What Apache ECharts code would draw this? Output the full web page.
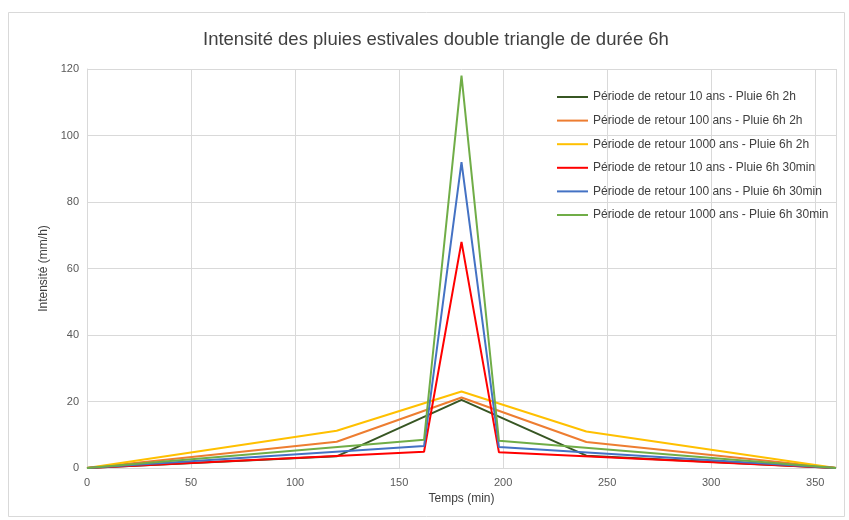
<!DOCTYPE html>
<html>
<head>
<meta charset="utf-8">
<script src="https://cdn.jsdelivr.net/npm/echarts@6/dist/echarts.min.js"></script>
<style>html,body{margin:0;padding:0;background:#fff;}#c{width:849px;height:520px;}</style>
</head>
<body>
<div id="c"></div>
<script>
const seriesNames = [
  "Période de retour 10 ans - Pluie 6h 2h",
  "Période de retour 100 ans - Pluie 6h 2h",
  "Période de retour 1000 ans - Pluie 6h 2h",
  "Période de retour 10 ans - Pluie 6h 30min",
  "Période de retour 100 ans - Pluie 6h 30min",
  "Période de retour 1000 ans - Pluie 6h 30min"
];
const times2h = [0, 120, 180, 240, 360];
const times30 = [0, 162, 180, 198, 360];
const t10_2h = [0, 3.5, 20.5, 3.7, 0];
const t100_2h = [0, 7.9, 21.2, 7.8, 0];
const t1000_2h = [0, 11.2, 23.0, 11.0, 0];
const t10_30 = [0, 4.9, 68.0, 4.7, 0];
const t100_30 = [0, 6.6, 92.0, 6.3, 0];
const t1000_30 = [0, 8.5, 118.0, 8.2, 0];
const colors = ["#375623", "#ed7d31", "#ffc000", "#ff0000", "#4472c4", "#70ad47"];

const allX = [times2h, times2h, times2h, times30, times30, times30];
const allY = [t10_2h, t100_2h, t1000_2h, t10_30, t100_30, t1000_30];

const chart = echarts.init(document.getElementById('c'));
chart.setOption({
  animation: false,
  backgroundColor: '#fff',
  title: {
    text: 'Intensité des pluies estivales double triangle de durée 6h',
    left: 198, top: 25,
    textStyle: {fontFamily: 'Liberation Sans', fontSize: 18.5, fontWeight: 'normal', color: '#404040'}
  },
  graphic: [{type: 'rect', shape: {x: 8.5, y: 12.5, width: 836, height: 504}, style: {fill: 'none', stroke: '#d9d9d9', lineWidth: 1}, silent: true}],
  legend: {
    orient: 'vertical', left: 552, top: 86, itemWidth: 31, itemHeight: 14, itemGap: 11.6,
    icon: 'path://M0,6H31V8H0Z',
    textStyle: {fontFamily: 'Liberation Sans', fontSize: 12, color: '#404040'},
    data: seriesNames
  },
  grid: {left: 87, right: 13, top: 69, bottom: 52},
  xAxis: {
    type: 'value', min: 0, max: 360, interval: 50,
    name: 'Temps (min)', nameLocation: 'middle', nameGap: 19,
    nameTextStyle: {fontFamily: 'Liberation Sans', fontSize: 12, color: '#404040'},
    axisLine: {show: true, lineStyle: {color: '#d9d9d9'}},
    axisTick: {show: false},
    axisLabel: {fontFamily: 'Liberation Sans', fontSize: 11, color: '#595959', showMaxLabel: false, margin: 9},
    splitLine: {show: true, lineStyle: {color: '#d9d9d9'}}
  },
  yAxis: {
    type: 'value', min: 0, max: 120, interval: 20,
    name: 'Intensité (mm/h)', nameLocation: 'middle', nameGap: 37,
    nameTextStyle: {fontFamily: 'Liberation Sans', fontSize: 12, color: '#404040'},
    axisLine: {show: true, lineStyle: {color: '#d9d9d9'}},
    axisTick: {show: false},
    axisLabel: {fontFamily: 'Liberation Sans', fontSize: 11, color: '#595959', margin: 8},
    splitLine: {show: true, lineStyle: {color: '#d9d9d9'}}
  },
  series: seriesNames.map((n, i) => ({
    name: n, type: 'line', showSymbol: false, symbol: 'none',
    data: allX[i].map((x, j) => [x, allY[i][j]]),
    lineStyle: {width: 2, color: colors[i]},
    itemStyle: {color: colors[i]}
  }))
});
</script>
</body>
</html>
